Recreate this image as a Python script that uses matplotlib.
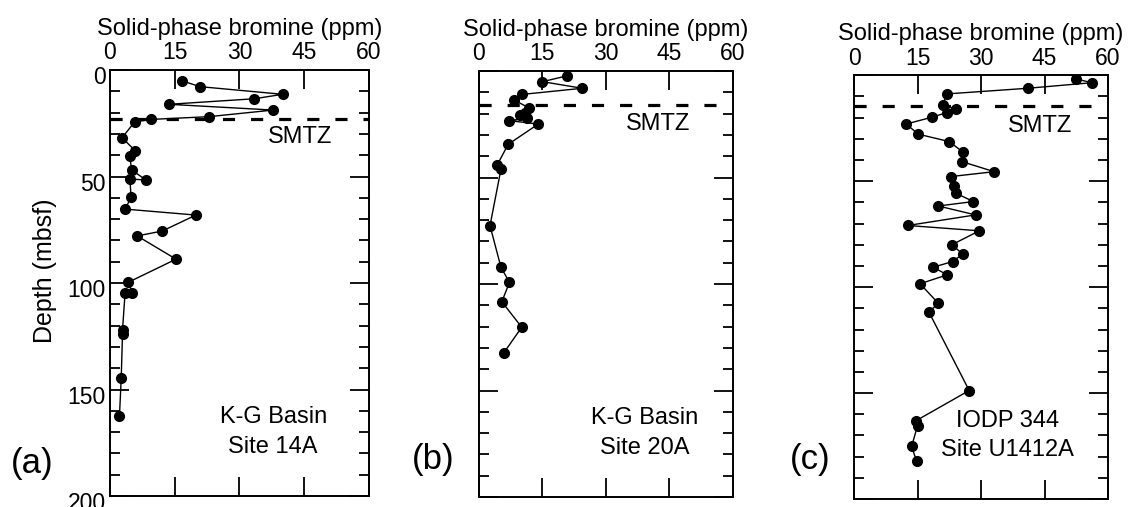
import matplotlib
matplotlib.use("Agg")
import matplotlib.pyplot as plt
from matplotlib.ticker import MultipleLocator
from matplotlib.transforms import ScaledTranslation

plt.rcParams['font.family'] = ['Liberation Sans', 'DejaVu Sans']

# K-G Basin, Site 14A
depth_a = [5.0, 7.8, 11.4, 13.5, 16.1, 18.8, 21.9, 23.2, 24.4, 31.8, 38.0, 40.5, 46.9, 51.6,
           51.2, 59.8, 65.3, 68.1, 75.6, 77.9, 88.8, 99.7, 104.5, 104.5, 122.0, 124.0, 144.7, 162.3]
br_a = [16.6, 20.8, 40.0, 33.4, 13.6, 37.8, 22.9, 9.5, 5.7, 2.8, 5.9, 4.6, 5.0, 8.3,
        4.6, 4.9, 3.5, 19.9, 12.1, 6.3, 15.3, 4.2, 5.2, 3.5, 2.9, 2.9, 2.6, 2.2]

# K-G Basin, Site 20A
depth_b = [2.3, 5.0, 8.1, 11.0, 13.6, 17.2, 19.6, 20.7, 22.2, 23.3, 24.9, 34.4, 44.1, 46.0,
           72.6, 92.2, 99.2, 108.3, 120.3, 132.2]
br_b = [20.7, 15.0, 24.4, 10.1, 8.3, 11.7, 10.9, 9.7, 11.3, 7.2, 14.0, 6.9, 4.3, 5.2,
        2.6, 5.2, 7.2, 5.4, 10.1, 5.9]

# IODP 344, Site U1412A
depth_c = [1.7, 3.5, 6.1, 8.8, 14.0, 16.0, 17.6, 19.8, 23.0, 27.8, 31.3, 36.2, 40.7, 45.5,
           47.8, 52.2, 55.7, 59.6, 61.7, 65.9, 70.9, 73.4, 80.0, 84.4, 87.9, 90.6, 94.2,
           98.4, 107.6, 111.8, 148.8, 163.1, 165.4, 175.2, 182.3]
br_c = [52.4, 56.2, 41.2, 21.9, 21.0, 24.1, 21.9, 18.4, 12.3, 15.2, 22.5, 25.7, 25.4, 33.1,
        22.9, 23.6, 24.1, 28.2, 19.9, 28.7, 12.7, 29.6, 23.1, 25.7, 23.3, 18.7, 22.0,
        15.6, 19.9, 17.7, 27.2, 14.6, 15.0, 13.6, 14.8]

smtz = [23.2, 16.0, 14.5]
sites = [("K-G Basin", "Site 14A"), ("K-G Basin", "Site 20A"), ("IODP 344", "Site U1412A")]
letters = ["(a)", "(b)", "(c)"]
x_ticks = [0, 15, 30, 45, 60]

FS = 17
TICK_FS = 16.5

fig = plt.figure(figsize=(11.41, 5.07), dpi=100)
boxes = [[0.0964, 0.0217, 0.2270, 0.8402],
         [0.4198, 0.0197, 0.2226, 0.8402],
         [0.7485, 0.0158, 0.2226, 0.8357]]
axes = [fig.add_axes(b) for b in boxes]

data = [(depth_a, br_a), (depth_b, br_b), (depth_c, br_c)]
label_pos = [(37.8, 44.0), (39.2, 42.3), (36.3, 44.0)]
smtz_text_y = [31.4, 24.9, 24.0]

for i, ax in enumerate(axes):
    d, br = data[i]
    ax.plot(br, d, '-', color='black', lw=1.0, marker='o', ms=7, mfc='black', mec='black')
    ax.axhline(smtz[i], color='black', lw=2.3, ls=(0, (3.8, 5.0)))

    ax.set_xlim(0, 60)
    ax.set_ylim(200, 0)
    ax.xaxis.tick_top()
    ax.xaxis.set_label_position('top')
    ax.set_xticks(x_ticks)
    ax.yaxis.set_major_locator(MultipleLocator(50))
    ax.yaxis.set_minor_locator(MultipleLocator(10))
    ax.tick_params(which='both', direction='in', top=True, bottom=True, left=True, right=True,
                   width=1.3, labelsize=TICK_FS)
    ax.tick_params(which='major', length=14)
    ax.tick_params(which='minor', length=7)
    ax.tick_params(axis='x', pad=4)
    ax.tick_params(axis='y', pad=3)
    ax.set_xlabel("Solid-phase bromine (ppm)", fontsize=FS, labelpad=5)
    for sp in ax.spines.values():
        sp.set_linewidth(1.4)

    if i == 0:
        ax.set_ylabel("Depth (mbsf)", fontsize=18)
        ax.yaxis.set_label_coords(-0.205, 0.528)
        for lab in ax.get_yticklabels():
            lab.set_transform(lab.get_transform() + ScaledTranslation(0, -0.05, fig.dpi_scale_trans))
    else:
        ax.tick_params(axis='y', labelleft=False)

    ax.text(label_pos[i][1], smtz_text_y[i], "SMTZ", fontsize=FS, ha='center', va='center')
    ax.text(label_pos[i][0], 163, sites[i][0], fontsize=FS, ha='center', va='center')
    ax.text(label_pos[i][0], 177, sites[i][1], fontsize=FS, ha='center', va='center')

fig.text(32 / 1141, 1 - 463 / 507, letters[0], fontsize=25, ha='center', va='center')
fig.text(433 / 1141, 1 - 460 / 507, letters[1], fontsize=25, ha='center', va='center')
fig.text(810 / 1141, 1 - 460 / 507, letters[2], fontsize=25, ha='center', va='center')

fig.savefig("out.png", dpi=100)
